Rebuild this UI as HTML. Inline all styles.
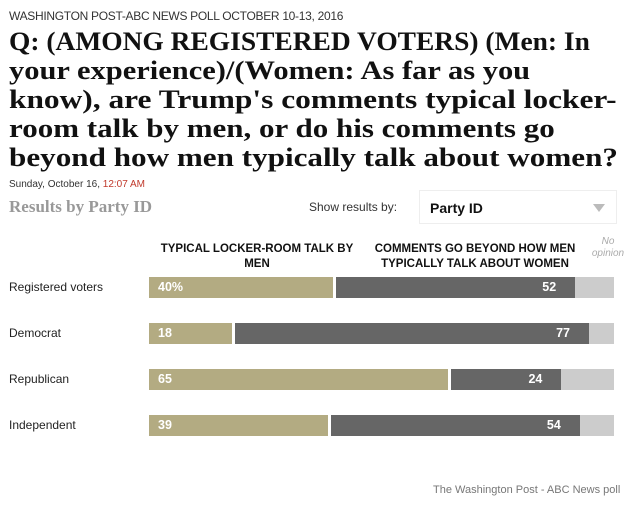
<!DOCTYPE html>
<html><head><meta charset="utf-8"><style>
body{margin:0;width:627px;height:508px;background:#fff;font-family:"Liberation Sans",sans-serif;position:relative;overflow:hidden}
.a{position:absolute}
.t span{display:block;transform-origin:0 0;white-space:nowrap}
</style></head><body>
<div class="a" style="left:9px;top:9px;font-size:12px;color:#333;letter-spacing:-0.3px">WASHINGTON POST-ABC NEWS POLL OCTOBER 10-13, 2016</div>
<div class="a t" style="left:9px;top:27px;font-family:'Liberation Serif',serif;font-weight:bold;font-size:26.5px;line-height:29px;color:#111"><span style="transform:scaleX(1.036)">Q: (AMONG REGISTERED VOTERS) (Men: In</span><span style="transform:scaleX(1.15)">your experience)/(Women: As far as you</span><span style="transform:scaleX(1.185)">know), are Trump's comments typical locker-</span><span style="transform:scaleX(1.17)">room talk by men, or do his comments go</span><span style="transform:scaleX(1.175)">beyond how men typically talk about women?</span></div>
<div class="a" style="left:9px;top:179px;font-size:10px;color:#333">Sunday, October 16, <span style="color:#c0392b">12:07 AM</span></div>
<div class="a" style="left:9px;top:197px;font-family:'Liberation Serif',serif;font-weight:bold;font-size:17px;color:#999">Results by Party ID</div>
<div class="a" style="left:309px;top:200px;font-size:12px;color:#333">Show results by:</div>
<div class="a" style="left:419px;top:190px;width:196px;height:32px;border:1px solid #eee;background:#fff">
<span style="position:absolute;left:10px;top:9px;font-weight:bold;font-size:14px;color:#111">Party ID</span>
<span style="position:absolute;left:173px;top:13px;width:0;height:0;border-left:6px solid transparent;border-right:6px solid transparent;border-top:8px solid #bbb"></span></div>
<div class="a" style="left:149px;top:242px;width:216px;text-align:center;font-weight:bold;font-size:11.5px;line-height:15px;color:#111">TYPICAL LOCKER-ROOM TALK BY MEN</div>
<div class="a" style="left:366px;top:242px;width:218px;text-align:center;font-weight:bold;font-size:11.5px;line-height:15px;color:#111">COMMENTS GO BEYOND HOW MEN TYPICALLY TALK ABOUT WOMEN</div>
<div class="a" style="left:590px;top:236px;width:36px;text-align:center;font-style:italic;font-size:10px;line-height:12px;color:#aaa">No opinion</div>
<div id="chart"></div>
<div class="a" style="left:433px;top:484px;font-size:11px;color:#777">The Washington Post - ABC News poll</div>
<script>
const categories=["Registered voters","Democrat","Republican","Independent"];
const typical=[40,18,65,39];
const beyond=[52,77,24,54];
const X0=149,W=465,S=4.6,GAP=3,Y0=277,STEP=46,H=21;
function xs(v){return v*S;}
const chart=document.getElementById('chart');
categories.forEach((c,i)=>{
  const y=Y0+i*STEP;
  const lab=document.createElement('div');lab.className='a';
  
  
  lab.style.cssText=`left:9px;top:${y+3}px;font-size:12px;color:#222`;lab.textContent=c;chart.appendChild(lab);
  const w1=xs(typical[i]),w2=xs(beyond[i]);
  const b1=document.createElement('div');b1.className='a';
  
  
  b1.style.cssText=`left:${X0}px;top:${y}px;width:${w1}px;height:${H}px;background:#b3ab82;color:#fff;font-weight:bold;font-size:12.5px;line-height:${H}px;box-sizing:border-box;padding-left:9px`;
  b1.textContent=typical[i]+(i===0?'%':'');chart.appendChild(b1);
  const b2=document.createElement('div');b2.className='a';
  
  
  b2.style.cssText=`left:${X0+w1+GAP}px;top:${y}px;width:${w2}px;height:${H}px;background:#666;color:#fff;font-weight:bold;font-size:12.5px;line-height:${H}px;text-align:right;box-sizing:border-box;padding-right:19px`;
  b2.textContent=beyond[i];chart.appendChild(b2);
  const x3=X0+w1+GAP+w2;
  const b3=document.createElement('div');b3.className='a';
  
  
  b3.style.cssText=`left:${x3}px;top:${y}px;width:${X0+W-x3}px;height:${H}px;background:#ccc`;
  chart.appendChild(b3);
});
</script>
</body></html>
